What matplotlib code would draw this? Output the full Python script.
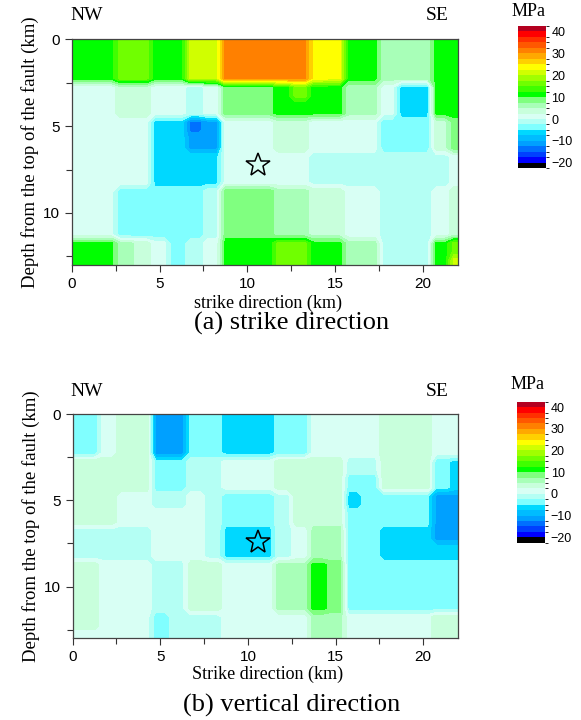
import numpy as np
import matplotlib
matplotlib.use("Agg")
import matplotlib.pyplot as plt
from matplotlib.colors import ListedColormap, BoundaryNorm

# ---- data: stress change (MPa) on 1 km cells, x = 0..22 km along strike, depth 0..13 km
x_km = np.arange(23)
depth_km = np.arange(14)

strike_stress = [
    [11,11,11,16,16,11,11,21,21,31,31,31,31,31,24,23,11,11,6,6,6,11,11],
    [11,11,11,16,16,11,11,21,21,31,31,31,31,31,24,23,11,11,6,6,6,11,11],
    [11,11,11,16,16,11,11,21,21,31,31,31,31,31,24,23,11,11,6,6,6,11,11],
    [1,1,1,4,4,1,1,-1,1,9,9,9,11,16,11,11,6,6,1,-6,-6,11,11],
    [1,1,1,4,4,1,1,-1,1,9,9,9,11,11,11,11,6,6,1,-6,-6,11,11],
    [1,1,1,1,1,-6,-6,-13,-11,1,1,1,4,4,1,1,1,1,-4,-4,-4,4,9],
    [1,1,1,1,1,-6,-6,-11,-11,1,1,1,4,4,1,1,1,1,-4,-4,-4,4,9],
    [1,1,1,1,1,-6,-6,-6,-6,1,1,1,1,1,-1,-1,-1,-1,-1,-1,-1,-1,1],
    [1,1,1,1,1,-6,-6,-6,-6,1,1,1,1,1,-1,-1,-1,-1,-1,-1,-1,-1,1],
    [1,1,1,-4,-4,-4,-4,-4,-1,9,9,9,6,6,4,4,1,1,-1,-1,-1,1,4],
    [1,1,1,-4,-4,-4,-4,-4,-1,9,9,9,6,6,4,4,1,1,-1,-1,-1,1,4],
    [1,1,1,-4,-4,-4,-4,-4,-1,9,9,9,6,6,4,4,1,1,-1,-1,-1,1,4],
    [11,11,11,6,4,1,-4,-1,1,11,11,11,16,16,11,11,6,6,-1,-1,-1,11,16],
    [11,11,11,6,4,1,-4,-1,1,11,11,11,16,16,11,11,6,6,-1,-1,-1,11,21],
]

vertical_stress = [
    [-4,-4,1,4,4,-11,-11,-4,-4,-6,-6,-6,-4,-4,1,1,1,1,4,4,4,1,1],
    [-4,-4,1,4,4,-11,-11,-4,-4,-6,-6,-6,-4,-4,1,1,1,1,4,4,4,1,1],
    [-4,-4,1,4,4,-11,-11,-4,-4,-6,-6,-6,-4,-4,1,1,1,1,4,4,4,1,1],
    [4,4,4,4,4,-4,-4,-1,-1,1,1,1,4,4,4,4,-1,-1,4,4,4,-4,-6],
    [4,4,4,4,4,-4,-4,-1,-1,1,1,1,4,4,4,4,-4,-4,4,4,4,-4,-6],
    [4,4,4,1,1,-1,-1,1,-1,-4,-4,-4,-1,4,4,4,-6,-4,-4,-4,-4,-11,-11],
    [4,4,4,1,1,1,1,1,-1,-4,-4,-4,-1,4,4,4,-4,-4,-4,-4,-4,-11,-11],
    [-1,-1,-1,-1,-1,1,1,1,-1,-6,-6,-6,-1,1,6,6,-4,-4,-6,-6,-6,-11,-11],
    [-1,-1,-1,-1,-1,1,1,1,-1,-6,-6,-6,-1,1,6,6,-4,-4,-6,-6,-6,-6,-6],
    [4,4,1,1,1,-1,-1,4,4,1,1,1,6,6,11,9,-4,-4,-4,-4,-4,-4,-4],
    [4,4,1,1,1,-1,-1,4,4,1,1,1,6,6,11,9,-4,-4,-4,-4,-4,-4,-4],
    [4,4,1,1,1,-1,-1,4,4,1,1,1,6,6,11,9,-4,-4,-4,-4,-4,-4,-4],
    [4,4,1,1,1,-4,-1,-1,-1,1,1,1,1,1,6,6,1,1,1,1,1,4,4],
    [1,1,1,1,1,-4,-1,-1,-1,1,1,1,1,1,6,6,1,1,1,1,1,4,4],
]

hypocenter_x = 10.6
hypocenter_depth = [7.25, 7.4]

levels = np.arange(-22.5, 42.6, 2.5)
cbar_ticks = [-20, -10, 0, 10, 20, 30, 40]
band_colors = [
    "#000000", "#0000ff", "#0040ff", "#0070ff", "#00a0ff", "#00bcff",
    "#00d8ff", "#80ffff", "#b4fff4", "#d8fff4", "#c8ffdc", "#a8ffb8",
    "#80ff80", "#00ff00", "#40ff00", "#70ff00", "#a0ff00", "#d0ff00",
    "#ffff00", "#ffd000", "#ffa800", "#ff8000", "#ff5800", "#ff3000",
    "#ff0000", "#b40020",
]
cmap = ListedColormap(band_colors)
norm = BoundaryNorm(levels, cmap.N)

SERIF = ["Liberation Serif", "DejaVu Serif"]
SANS = ["Liberation Sans", "DejaVu Sans"]

fig = plt.figure(figsize=(5.81, 7.2), dpi=100)


def fine(values):
    z = np.repeat(np.repeat(np.array(values, dtype=float), 2, axis=0), 2, axis=1)
    xf = (x_km[:, None] + np.array([-0.25, 0.25])).ravel()
    yf = (depth_km[:, None] + np.array([-0.25, 0.25])).ravel()
    return xf, yf, z


def panel(rect, cbar_rect, values, star_depth, xlabel, caption, mpa_y, nwse_y,
          xlabel_y, caption_y):
    ax = fig.add_axes(rect)
    xf, yf, z = fine(values)
    cs = ax.contourf(xf, yf, z, levels=levels, cmap=cmap, norm=norm)
    ax.plot([hypocenter_x], [star_depth], marker="*", markersize=18,
            markerfacecolor="none", markeredgecolor="black", markeredgewidth=1.1,
            linestyle="none")
    ax.set_xlim(0, 22)
    ax.set_ylim(13, 0)
    ax.set_xticks([0, 5, 10, 15, 20])
    ax.set_xticks([2.5, 7.5, 12.5, 17.5], minor=True)
    ax.set_yticks([0, 5, 10])
    ax.set_yticks([2.5, 7.5, 12.5], minor=True)
    ax.tick_params(which="both", direction="out", top=False, right=False,
                   labelsize=11, width=0.8, color="#333333")
    ax.tick_params(which="major", length=5)
    ax.tick_params(which="minor", length=4)
    for lab in ax.get_xticklabels() + ax.get_yticklabels():
        lab.set_family(SANS)
    for s in ax.spines.values():
        s.set_color("#444444")
        s.set_linewidth(0.9)
    ax.set_ylabel("Depth from the top of the fault (km)", family=SERIF,
                  fontsize=13.5, labelpad=3)
    fig.text(0.461, xlabel_y, xlabel, family=SERIF, fontsize=13,
             ha="center", va="center")
    fig.text(0.502, caption_y, caption, family=SERIF, fontsize=19,
             ha="center", va="baseline")
    fig.text(rect[0] - 0.003, nwse_y, "NW", family=SERIF, fontsize=14,
             ha="left", va="center")
    fig.text(0.772, nwse_y, "SE", family=SERIF, fontsize=14,
             ha="right", va="center")

    cax = fig.add_axes(cbar_rect)
    cb = fig.colorbar(cs, cax=cax, ticks=cbar_ticks)
    cb.outline.set_visible(False)
    cax.tick_params(length=0, labelsize=9, pad=4)
    for lab in cax.get_yticklabels():
        lab.set_family(SANS)
    fig.text(cbar_rect[0] + cbar_rect[2] / 2 - 0.006, mpa_y, "MPa",
             family=SERIF, fontsize=13, ha="center", va="center")
    return ax


panel([0.1234, 0.6319, 0.6654, 0.3135], [0.8915, 0.7663, 0.0478, 0.1976],
      strike_stress, hypocenter_depth[0], "strike direction (km)",
      "(a) strike direction", 0.9838, 0.979, 0.5787, 0.5417)
panel([0.1250, 0.1135, 0.6638, 0.3115], [0.8905, 0.2463, 0.0478, 0.1958],
      vertical_stress, hypocenter_depth[1], "Strike direction (km)",
      "(b) vertical direction", 0.4653, 0.4556, 0.0640, 0.0111)

fig.savefig("out.png", dpi=100)
